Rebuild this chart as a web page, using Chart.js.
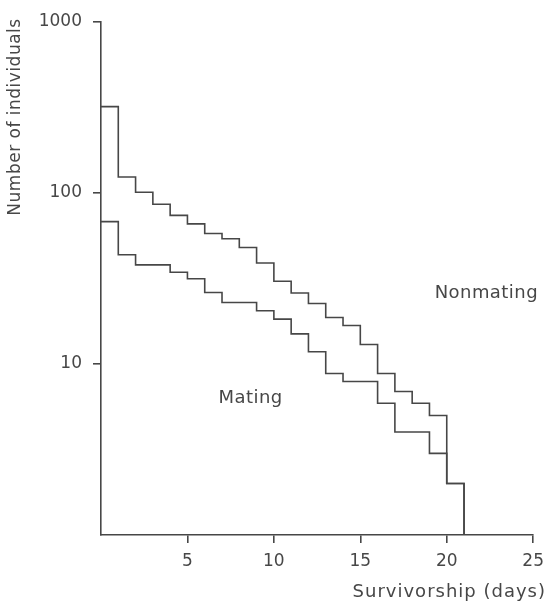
<!DOCTYPE html>
<html>
<head>
<meta charset="utf-8">
<script src="https://cdn.jsdelivr.net/npm/chart.js@4/dist/chart.umd.min.js"></script>
<style>
html,body{margin:0;padding:0;background:#fff;}
#wrap{width:552px;height:606px;position:relative;}
</style>
</head>
<body>
<div id="wrap"><canvas id="c" width="552" height="606"></canvas></div>
<script>
// Data (value held from each day until the next)
const days = [0,1,2,3,4,5,6,7,8,9,10,11,12,13,14,15,16,17,18,19,20,21];
const nonmating = [320,124,101,86,74,66,58,54,48,39,30.5,26,22.6,18.7,16.8,13,8.8,6.9,5.9,5,2,1];
const mating = [68,43.5,38,38,34.4,31.5,26.2,22.9,22.9,20.5,18.3,15,11.8,8.8,7.9,7.9,5.9,4,4,3,2,1];
const xTicks = [5,10,15,20,25];
const yTicks = [10,100,1000];
const seriesLabels = ['Nonmating','Mating'];
const xTitle = 'Survivorship (days)';
const yTitle = 'Number of individuals';

const ink = '#474747';
const font = "'DejaVu Sans', sans-serif";

const toPts = (xs, ys) => xs.map((x, i) => ({x: x, y: ys[i]}));

const textPlugin = {
  id: 'texts',
  afterDraw(chart) {
    const ctx = chart.ctx;
    const xs = chart.scales.x, ys = chart.scales.y;
    ctx.save();
    ctx.fillStyle = ink;
    ctx.font = '18px ' + font;
    ctx.letterSpacing = '0.45px';
    ctx.textBaseline = 'middle';
    ctx.textAlign = 'left';
    ctx.fillText(seriesLabels[0], xs.getPixelForValue(19.3), ys.getPixelForValue(26));
    ctx.fillText(seriesLabels[1], xs.getPixelForValue(6.8), ys.getPixelForValue(6.3));
    // x title
    ctx.letterSpacing = '1px';
    ctx.textAlign = 'right';
    ctx.fillText(xTitle, 546, 592);
    // y title
    ctx.font = '17px ' + font;
    ctx.letterSpacing = '0.5px';
    ctx.translate(16, 117);
    ctx.rotate(-Math.PI / 2);
    ctx.textAlign = 'center';
    ctx.fillText(yTitle, 0, 0);
    ctx.restore();
  }
};

new Chart(document.getElementById('c'), {
  type: 'line',
  data: {
    datasets: [
      {label: seriesLabels[0], data: toPts(days, nonmating)},
      {label: seriesLabels[1], data: toPts(days, mating)}
    ]
  },
  options: {
    responsive: false,
    animation: false,
    layout: {padding: {top: 22, right: 18, bottom: 0, left: 0}},
    elements: {
      line: {borderColor: ink, borderWidth: 1.6, stepped: 'before', tension: 0, fill: false},
      point: {radius: 0, hoverRadius: 0}
    },
    datasets: {line: {clip: false}},
    plugins: {legend: {display: false}, tooltip: {enabled: false}},
    scales: {
      x: {
        type: 'linear', min: 0, max: 25,
        afterBuildTicks: s => { s.ticks = xTicks.map(v => ({value: v})); },
        afterFit: s => { s.height = 71; },
        ticks: {color: ink, font: {family: font, size: 17}, padding: 8, maxRotation: 0},
        grid: {drawOnChartArea: false, drawTicks: true, tickLength: 8, color: ink, lineWidth: 1.6},
        border: {display: true, color: ink, width: 1.6}
      },
      y: {
        type: 'logarithmic', min: 1, max: 1000,
        afterBuildTicks: s => { s.ticks = yTicks.map(v => ({value: v})); },
        afterFit: s => { s.width = 101; },
        ticks: {color: ink, font: {family: font, size: 17}, padding: 11, callback: v => String(v)},
        grid: {drawOnChartArea: false, drawTicks: true, tickLength: 8, color: ink, lineWidth: 1.6},
        border: {display: true, color: ink, width: 1.6}
      }
    }
  },
  plugins: [textPlugin]
});
</script>
</body>
</html>
